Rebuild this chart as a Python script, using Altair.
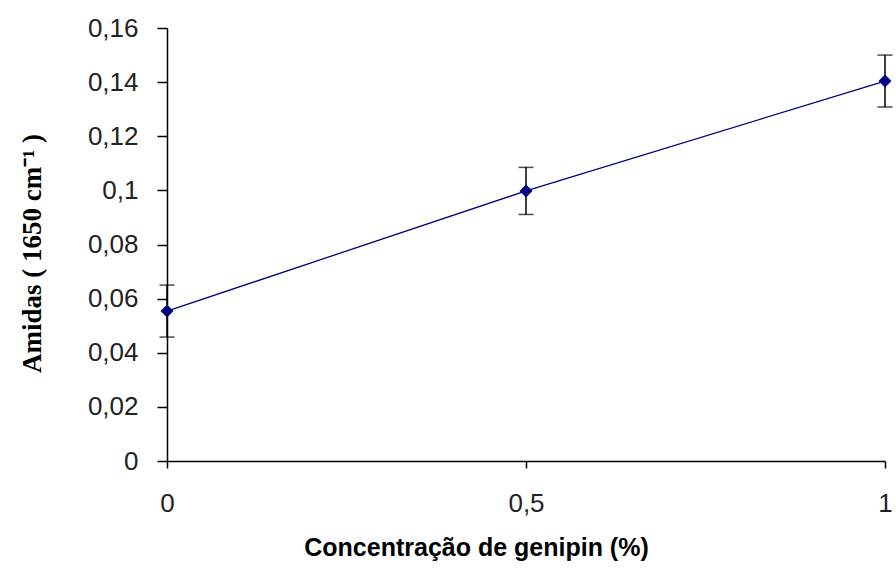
import altair as alt
import pandas as pd

# Data
concentracao = [0, 0.5, 1]
amidas = [0.0554, 0.0998, 0.1404]
erro = [0.0096, 0.0087, 0.0096]

df = pd.DataFrame({"x": concentracao, "y": amidas, "err": erro})
df["lo"] = df["y"] - df["err"]
df["hi"] = df["y"] + df["err"]

W, H = 718, 433

xscale = alt.Scale(domain=[0, 1], nice=False, zero=False)
yscale = alt.Scale(domain=[0, 0.16], nice=False)

xaxis = alt.Axis(
    values=[0, 0.5, 1],
    labelExpr="replace(format(datum.value, ''), '.', ',')",
    title="Concentração de genipin (%)",
    titleFont="Liberation Sans", titleFontSize=25, titleFontWeight="bold",
    titleX=309, titleY=94, titleBaseline="alphabetic", titleAlign="center",
    labelFont="Liberation Sans", labelFontSize=26, labelColor="#222222",
    labelBaseline="top", labelPadding=22, labelFlush=False,
    tickSize=7, tickColor="black", domainColor="black", domainWidth=1.5, tickWidth=1.5,
    grid=False,
)
yaxis = alt.Axis(
    values=[0, 0.02, 0.04, 0.06, 0.08, 0.1, 0.12, 0.14, 0.16],
    labelExpr="replace(format(datum.value, ''), '.', ',')",
    title="Amidas ( 1650  cm⁻¹ )",
    titleFont="Liberation Serif", titleFontSize=27, titleFontWeight="bold",
    titleAngle=270, titleX=-127, titleY=225, titleBaseline="alphabetic", titleAlign="center",
    labelFont="Liberation Sans", labelFontSize=26, labelColor="#222222",
    labelPadding=19, tickSize=10, tickColor="black", domainColor="black",
    domainWidth=1.5, tickWidth=1.5, grid=False,
)

base = alt.Chart(df)

line = base.mark_line(color="#000080", strokeWidth=1.3).encode(
    x=alt.X("x:Q", scale=xscale, axis=xaxis),
    y=alt.Y("y:Q", scale=yscale, axis=yaxis),
)

bars = base.mark_rule(color="black", strokeWidth=1.5).encode(
    x="x:Q", y="lo:Q", y2="hi:Q"
)
cap_lo = base.mark_tick(color="black", orient="horizontal", size=15, thickness=1.5).encode(
    x="x:Q", y="lo:Q"
)
cap_hi = base.mark_tick(color="black", orient="horizontal", size=15, thickness=1.5).encode(
    x="x:Q", y="hi:Q"
)

points = base.mark_point(shape="diamond", filled=True, color="#000080", size=170, opacity=1).encode(
    x="x:Q", y="y:Q"
)

chart = alt.layer(line, bars, cap_lo, cap_hi, points).properties(
    width=W, height=H,
    autosize=alt.AutoSizeParams(type="none"),
    padding={"left": 167, "top": 28, "right": 11, "bottom": 107},
    background="white",
).configure_view(stroke=None)

chart.save("out.html", embed_options={"renderer": "svg", "actions": False})
